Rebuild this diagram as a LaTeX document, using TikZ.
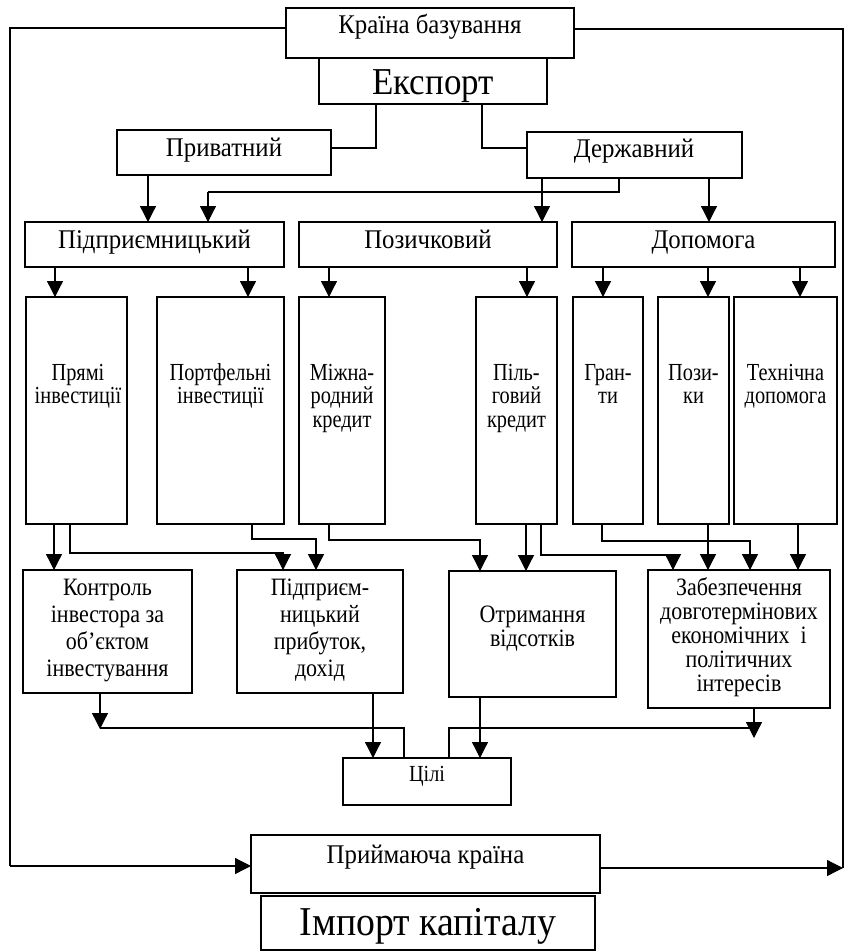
\documentclass[tikz,border=0pt]{standalone}
\usepackage{fontspec}
\setmainfont{Liberation Serif}
\newfontfamily\topfont{Liberation Serif}[FakeStretch=0.92]
\newfontfamily\narrowfont{Liberation Serif}[FakeStretch=0.83]
\newfontfamily\midfont{Liberation Serif}[FakeStretch=0.88]
\usetikzlibrary{arrows.meta,calc}

% centred stack of lines whose reference point is the first baseline
\newcommand{\stk}[2][23.5pt]{\vtop{\baselineskip=#1\lineskiplimit=-100pt\halign{\hfil##\hfil\cr#2\crcr}}}
\newcommand{\fsz}[1]{\fontsize{#1}{#1}\selectfont}
% rectangle from its top-left (x1,y1) to bottom-right (x2,y2)
\newcommand{\bx}[5]{\node[bx, minimum width={(#4-#2)*1pt}, minimum height={(#5-#3)*1pt}] (#1) at (#2,#3) {};}

\tikzset{
  bx/.style={draw, line width=1.3pt, inner sep=0pt, outer sep=0pt, anchor=north west},
  txt/.style={inner sep=0pt, anchor=base, font=\topfont\fsz{27}},
  tall/.style={txt, font=\narrowfont\fsz{24.5}},
  mid/.style={txt, font=\midfont\fsz{25}},
  ln/.style={line width=1.3pt},
  ar/.style={ln, -{Triangle[width=16pt,length=16pt]}},
}

\begin{document}
\begin{tikzpicture}[x=1pt,y=-1pt]
\useasboundingbox (0,0) rectangle (845,951);
\fill[white] (0,0) rectangle (845,951);

% ---- boxes ----
\bx{home}{286}{8}{574}{58}
\bx{exp}{319}{58}{547}{104}
\bx{priv}{117}{130}{331}{175}
\bx{gov}{527}{132}{742}{178}
\bx{ent}{25}{222}{284}{267}
\bx{loan}{299}{222}{557}{267}
\bx{aid}{572}{222}{835}{267}
\bx{direct}{26}{297}{127}{524}
\bx{port}{157}{297}{284}{524}
\bx{intl}{299}{297}{385}{524}
\bx{pref}{476}{297}{557}{524}
\bx{grant}{573}{297}{643}{524}
\bx{lend}{658}{297}{729}{524}
\bx{tech}{734}{297}{837}{524}
\bx{ctrl}{23}{570}{192}{693}
\bx{prof}{237}{570}{403}{693}
\bx{intr}{449}{571}{616}{697}
\bx{secure}{648}{570}{830}{708}
\bx{goal}{343}{758}{511}{805}
\bx{recv}{251}{835}{600}{893}
\bx{imp}{261}{896}{595}{950}

% ---- texts ----
\node[txt] (t-home) at (430,33) {Країна базування};
\node[txt, font=\topfont\fsz{38}] (t-exp) at (433,94) {Експорт};
\node[txt] (t-priv) at (224,156) {Приватний};
\node[txt] (t-gov) at (634,157) {Державний};
\node[txt] (t-ent) at (154.5,248) {Підприємницький};
\node[txt] (t-loan) at (428,248) {Позичковий};
\node[txt] (t-aid) at (703.5,248) {Допомога};
\node[tall] (t-direct) at (78,380) {\stk{Прямі\cr інвестиції}};
\node[tall] (t-port) at (220.5,380) {\stk{Портфельні\cr інвестиції}};
\node[tall] (t-intl) at (342,380) {\stk{Міжна-\cr родний\cr кредит}};
\node[tall] (t-pref) at (516.5,380) {\stk{Піль-\cr говий\cr кредит}};
\node[tall] (t-grant) at (608,380) {\stk{Гран-\cr ти}};
\node[tall] (t-lend) at (693.5,380) {\stk{Пози-\cr ки}};
\node[tall] (t-tech) at (785.5,380) {\stk{Технічна\cr допомога}};
\node[mid] (t-ctrl) at (107.5,595) {\stk[27pt]{Контроль\cr інвестора за\cr об’єктом\cr інвестування}};
\node[mid] (t-prof) at (320,595) {\stk[27pt]{Підприєм-\cr ницький\cr прибуток,\cr дохід}};
\node[mid] (t-intr) at (532.5,622) {\stk[24pt]{Отримання\cr відсотків}};
\node[mid] (t-secure) at (739,595) {\stk[24pt]{Забезпечення\cr довготермінових\cr економічних~ і\cr політичних\cr інтересів}};
\node[txt, font=\midfont\fsz{23}] (t-goal) at (427,781) {Цілі};
\node[txt] (t-recv) at (425.5,863) {Приймаюча країна};
\node[txt, font=\topfont\fsz{41}] (t-imp) at (428,935) {Імпорт капіталу};

% ---- connectors ----
\coordinate (hl) at (10,28);
\coordinate (hr) at (843,29);
\draw[ln] (home.west |- hl) -- (hl) -- (hl |- 0,866);
\draw[ar] (hl |- 0,866) -- (recv.west |- 0,866);
\draw[ln] (home.east |- hr) -- (hr) -- (hr |- 0,868);
\draw[ar] (recv.east |- 0,868) -- (hr |- 0,868);

\draw[ln] (exp.south -| 376,0) |- (priv.east |- 0,148);
\draw[ln] (exp.south -| 482,0) |- (gov.west |- 0,148);
\draw[ar] (priv.south -| 148,0) -- (ent.north -| 148,0);
\draw[ln] (gov.south -| 619,0) |- (208,192);
\draw[ar] (208,192) -- (ent.north -| 208,0);
\draw[ar] (gov.south -| 542,0) -- (loan.north -| 542,0);
\draw[ar] (gov.south -| 709,0) -- (aid.north -| 709,0);

\draw[ar] (ent.south -| 55,0) -- (direct.north -| 55,0);
\draw[ar] (ent.south -| 248,0) -- (port.north -| 248,0);
\draw[ar] (loan.south -| 329,0) -- (intl.north -| 329,0);
\draw[ar] (loan.south -| 527,0) -- (pref.north -| 527,0);
\draw[ar] (aid.south -| 603,0) -- (grant.north -| 603,0);
\draw[ar] (aid.south -| 708,0) -- (lend.north -| 708,0);
\draw[ar] (aid.south -| 800,0) -- (tech.north -| 800,0);

\draw[ar] (direct.south -| 54,0) -- (ctrl.north -| 54,0);
\draw[ar] (direct.south -| 70,0) |- (283,553) -- (prof.north -| 283,0);
\draw[ar] (port.south -| 252,0) |- (316,539) -- (prof.north -| 316,0);
\draw[ar] (intl.south -| 329,0) |- (480,540) -- (intr.north -| 480,0);
\draw[ar] (pref.south -| 526,0) -- (intr.north -| 526,0);
\draw[ar] (pref.south -| 541,0) |- (673,555) -- (secure.north -| 673,0);
\draw[ar] (grant.south -| 602,0) |- (750,541) -- (secure.north -| 750,0);
\draw[ar] (lend.south -| 708,0) -- (secure.north -| 708,0);
\draw[ar] (tech.south -| 798,0) -- (secure.north -| 798,0);

\draw[ar] (ctrl.south -| 100,0) -- (100,729);
\draw[ln] (100,728) -| (goal.north -| 404,0);
\draw[ar] (prof.south -| 373,0) -- (goal.north -| 373,0);
\draw[ar] (intr.south -| 480,0) -- (goal.north -| 480,0);
\draw[ar] (secure.south -| 754,0) -- (754,738);
\draw[ln] (754,728) -| (goal.north -| 449,0);
\end{tikzpicture}
\end{document}
